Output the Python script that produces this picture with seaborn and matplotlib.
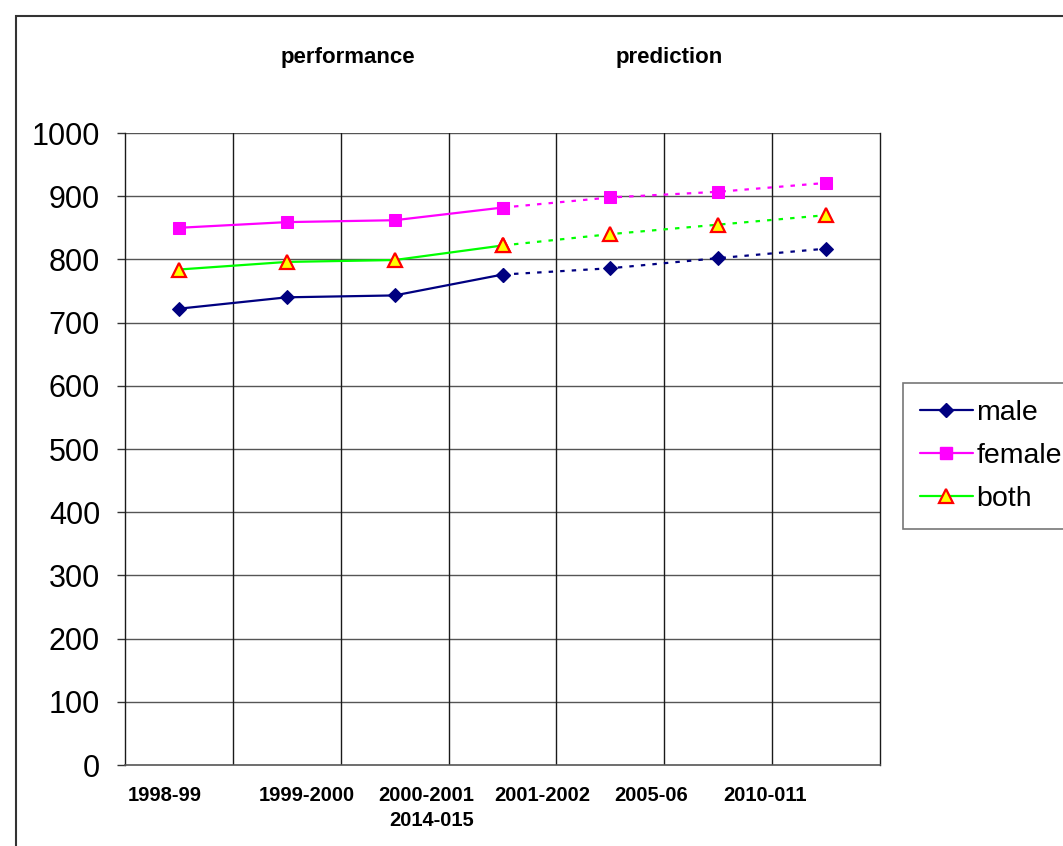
import matplotlib
matplotlib.use("Agg")
import matplotlib.pyplot as plt
from matplotlib.lines import Line2D
from matplotlib.patches import Rectangle
import seaborn as sns
import numpy as np

# data
periods = ['1998-99', '1999-2000', '2000-2001\n2014-015', '2001-2002',
           '2005-06', '2010-011']
male = [722, 740, 743, 776, 786, 802, 817]
female = [850, 859, 862, 882, 898, 907, 921]
both = [784, 796, 799, 822, 840, 855, 870]
n_actual = 4  # first 4 points are measured, rest predicted

sns.set_style("white")
plt.rcParams['font.family'] = ['Liberation Sans', 'DejaVu Sans']
plt.rcParams['text.color'] = 'black'
plt.rcParams['ytick.color'] = 'black'
plt.rcParams['ytick.labelcolor'] = 'black'

W, H = 1063, 846
fig = plt.figure(figsize=(W / 100, H / 100), dpi=100)
ax = fig.add_axes([125 / W, 1 - 765 / H, 755 / W, 632 / H])

x = np.arange(len(male))
series = [
    ('male', male, dict(color='#000080', marker='D', markersize=7,
                        markerfacecolor='#000080', markeredgecolor='#000080')),
    ('female', female, dict(color='#FF00FF', marker='s', markersize=9.2,
                            markerfacecolor='#FF00FF', markeredgecolor='#FF00FF')),
    ('both', both, dict(color='#00FF00', marker='^', markersize=9.5,
                        markerfacecolor='#FFFF00', markeredgecolor='#FF0000',
                        markeredgewidth=1.6)),
]

handles = []
for name, vals, st in series:
    vals = np.array(vals)
    sns.lineplot(x=x[:n_actual], y=vals[:n_actual], ax=ax, lw=1.6, zorder=3, **st)
    sns.lineplot(x=x[n_actual - 1:], y=vals[n_actual - 1:], ax=ax, lw=1.6,
                 linestyle=(0, (2, 3.2)), zorder=3, **st)
    handles.append(Line2D([], [], lw=1.6, label=name, **st))

ax.set_xlim(-0.5, len(male) - 0.5)
ax.set_ylim(0, 1000)
ax.set_yticks(np.arange(0, 1001, 100))
ax.set_xticks([])
for y in np.arange(100, 1001, 100):
    ax.axhline(y, color='#555555', lw=1, zorder=1)
for xv in np.arange(0.5, len(male) - 0.5, 1):
    ax.axvline(xv, color='#1a1a1a', lw=1, zorder=1)

for side in ['left', 'right']:
    ax.spines[side].set_color('#1a1a1a')
    ax.spines[side].set_linewidth(1)
ax.spines['top'].set_visible(False)
ax.spines['bottom'].set_color('#555555')
ax.spines['bottom'].set_linewidth(1.2)
ax.tick_params(axis='y', left=True, length=6, width=1, color='#333333',
               labelsize=22, pad=12)
ax.set_xlabel('')
ax.set_ylabel('')

# category labels under the axis (placed as in the original)
label_pos = [(165, 'center'), (307, 'center'), (474, 'right'),
             (542, 'center'), (651, 'center'), (765, 'center')]
for lab, (px, ha) in zip(periods, label_pos):
    fig.text(px / W, 1 - 786 / H, lab, ha=ha, va='top', fontsize=14.5,
             fontweight='bold', multialignment='right', linespacing=1.4)

fig.text(348 / W, 1 - 57 / H, 'performance', ha='center', va='center',
         fontsize=16, fontweight='bold')
fig.text(669 / W, 1 - 57 / H, 'prediction', ha='center', va='center',
         fontsize=16, fontweight='bold')

leg = ax.legend(handles=handles, loc='upper left',
                bbox_to_anchor=((903 - 125) / 755, (765 - 383) / 632),
                borderaxespad=0, frameon=True, fancybox=False, fontsize=20.5,
                handlelength=1.85, handletextpad=0.12, labelspacing=0.6,
                borderpad=0.6)
leg.get_frame().set_edgecolor('#555555')
leg.get_frame().set_linewidth(1.2)

# outer chart-area border (top and left visible)
fig.patches.append(Rectangle((16 / W, -0.1), 1.2, 1 - 16 / H + 0.1,
                             transform=fig.transFigure, fill=False,
                             edgecolor='#333333', lw=1.5))

fig.savefig('out.png', dpi=100)
